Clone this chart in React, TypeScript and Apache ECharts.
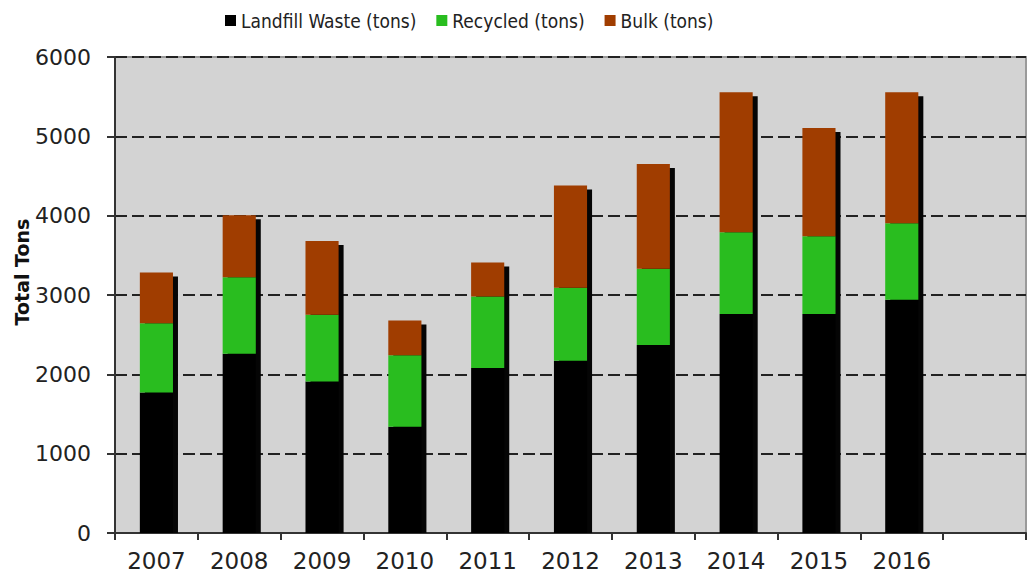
import React, { useEffect, useRef } from "react";
import * as echarts from "echarts";

const years = ["2007", "2008", "2009", "2010", "2011", "2012", "2013", "2014", "2015", "2016"];
const axisCategories = [...years, ""];
const landfill = [1770, 2260, 1910, 1340, 2080, 2170, 2370, 2760, 2760, 2940];
const recycled = [875, 965, 840, 900, 900, 920, 960, 1030, 980, 965];
const bulk = [640, 780, 930, 440, 430, 1290, 1320, 1765, 1365, 1650];
const yTicks = [0, 1000, 2000, 3000, 4000, 5000, 6000];

const seriesNames = ["Landfill Waste (tons)", "Recycled (tons)", "Bulk (tons)"];
const colors = ["#000000", "#29bd1f", "#a03d00"];

export default function App() {
  const ref = useRef<HTMLDivElement>(null);
  useEffect(() => {
    if (!ref.current) return;
    const chart = echarts.init(ref.current, null, { renderer: "svg" });
    const totals = years.map((_, i) => [i, landfill[i] + recycled[i] + bulk[i]]);
    const font = "DejaVu Sans, Verdana, sans-serif";
    const legendFont = "DejaVu Sans Condensed, DejaVu Sans, sans-serif";
    chart.setOption({
      animation: false,
      backgroundColor: "#ffffff",
      textStyle: { fontFamily: font },
      legend: {
        data: seriesNames,
        left: 220,
        top: 6,
        itemWidth: 11,
        itemHeight: 11,
        itemGap: 20,
        icon: "rect",
        textStyle: { fontSize: 19, color: "#222", fontFamily: legendFont },
      },
      grid: {
        left: 115,
        top: 57,
        right: 6,
        bottom: 45,
        show: true,
        backgroundColor: "#d3d3d3",
        borderColor: "#9a9a9a",
        borderWidth: 2,
      },
      graphic: [
        {
          type: "text",
          x: 22,
          y: 272,
          rotation: Math.PI / 2,
          style: {
            text: "Total Tons",
            fontSize: 19,
            fontWeight: "bold",
            fontFamily: font,
            fill: "#111",
            textAlign: "center",
            textVerticalAlign: "middle",
          },
        },
      ],
      xAxis: {
        type: "category",
        data: axisCategories,
        boundaryGap: true,
        axisLine: { lineStyle: { color: "#333", width: 2 } },
        axisTick: { show: true, length: 7, lineStyle: { color: "#333", width: 2 } },
        axisLabel: { fontSize: 23, color: "#222", margin: 16, fontFamily: font, interval: 0 },
        splitLine: { show: false },
      },
      yAxis: {
        type: "value",
        min: yTicks[0],
        max: yTicks[yTicks.length - 1],
        interval: 1000,
        axisLine: { show: true, lineStyle: { color: "#333", width: 2 } },
        axisTick: { show: true, length: 8, lineStyle: { color: "#333", width: 2 } },
        axisLabel: {
          fontSize: 22,
          color: "#222",
          margin: 24,
          fontFamily: font,
          formatter: (v: number) => String(v),
        },
        splitLine: {
          show: true,
          lineStyle: { color: "#222", width: 2, type: [12, 5] },
        },
      },
      series: [
        {
          type: "custom",
          name: "shadow",
          z: 1,
          silent: true,
          data: totals,
          encode: { x: 0, y: 1 },
          renderItem: (params: any, api: any) => {
            const idx = api.value(0);
            const total = api.value(1);
            const top = api.coord([idx, total]);
            const bottom = api.coord([idx, 0]);
            const w = api.size([1, 0])[0] * 0.4;
            return {
              type: "rect",
              shape: {
                x: top[0] - w / 2 + 5,
                y: top[1] + 4,
                width: w,
                height: bottom[1] - top[1] - 4,
              },
              style: { fill: "#050505" },
            };
          },
        },
        {
          type: "bar",
          name: seriesNames[0],
          stack: "total",
          barWidth: "40%",
          z: 3,
          data: landfill,
          itemStyle: { color: colors[0] },
        },
        {
          type: "bar",
          name: seriesNames[1],
          stack: "total",
          barWidth: "40%",
          z: 3,
          data: recycled,
          itemStyle: { color: colors[1] },
        },
        {
          type: "bar",
          name: seriesNames[2],
          stack: "total",
          barWidth: "40%",
          z: 3,
          data: bulk,
          itemStyle: { color: colors[2] },
        },
      ],
    });
    return () => chart.dispose();
  }, []);
  return (
    <div
      ref={ref}
      style={{ position: "fixed", left: 0, top: 0, width: 1032, height: 578 }}
    />
  );
}
